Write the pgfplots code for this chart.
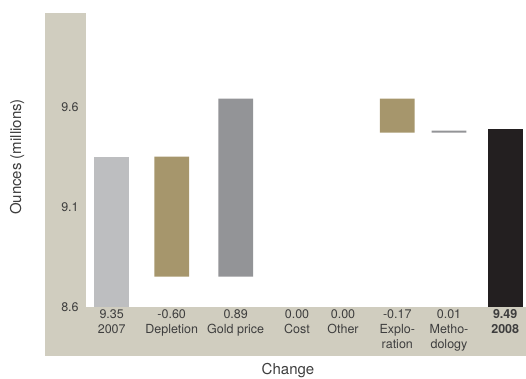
\documentclass[border=0pt]{standalone}
\usepackage{pgfplots}
\pgfplotsset{compat=1.18}
\usepackage{pgfplotstable}
\usepackage{fontspec}
\setmainfont{TeX Gyre Heros}

\definecolor{bgbeige}{HTML}{D0CDBF}
\definecolor{lightbar}{HTML}{BDBEC0}
\definecolor{khaki}{HTML}{A6966C}
\definecolor{midgray}{HTML}{939497}
\definecolor{darkbar}{HTML}{231F20}
\definecolor{txt}{HTML}{3E3E3E}

% Reserve bridge: invisible base, then the visible segment of each step
\pgfplotstableread{
x      base   first  khaki  gray   last
111.7  0      9.35   0      0      0
171.7  8.75   0      0.60   0      0
235.7  8.75   0      0      0.89   0
297    0      0      0      0      0
343    0      0      0      0      0
397.3  9.47   0      0.17   0      0
449    9.47   0      0      0.01   0
505.2  0      0      0      0      9.49
}\waterfall

\begin{document}
\begin{tikzpicture}[x=1pt,y=1pt]
\useasboundingbox (0,0) rectangle (526,378);
% L-shaped frame behind the tick labels
\fill[bgbeige] (45,22.3) rectangle (85.7,365);
\fill[bgbeige] (85.7,22.3) rectangle (526,71.3);
\begin{axis}[
  at={(85.7pt,71.3pt)}, anchor=south west,
  x=1pt, y=200pt,
  xmin=85.7, xmax=526, ymin=8.6, ymax=10.068,
  axis line style={draw=none},
  major tick length=0pt,
  ybar stacked, bar width=34.7,
  ytick={8.6,9.1,9.6},
  yticklabel style={font=\fontsize{12.5}{15}\selectfont, text=txt, xshift=-3.5pt,
    /pgf/number format/.cd, fixed, precision=1, fixed zerofill, assume math mode=true},
  xtick={111.7,171.7,235.7,297,343,397.3,449,505.2},
  xticklabels={
    {9.35\\2007},
    {-0.60\\Depletion},
    {0.89\\Gold price},
    {0.00\\Cost},
    {0.00\\Other},
    {-0.17\\Explo-\\ration},
    {0.01\\Metho-\\dology},
    {\textbf{9.49}\\\textbf{2008}}},
  xticklabel style={align=center, anchor=north, inner sep=2pt, yshift=-1pt,
    font=\fontsize{12.5}{15}\selectfont, text=txt},
]
\addplot[draw=none, fill=none] table[x=x, y=base] {\waterfall};
\addplot[draw=none, fill=lightbar] table[x=x, y=first] {\waterfall};
\addplot[draw=none, fill=khaki] table[x=x, y=khaki] {\waterfall};
\addplot[draw=none, fill=midgray] table[x=x, y=gray] {\waterfall};
\addplot[draw=none, fill=darkbar] table[x=x, y=last] {\waterfall};
\end{axis}
\node[anchor=base, text=txt, font=\fontsize{15}{18}\selectfont] at (288,3.5) {Change};
\node[rotate=90, text=txt, font=\fontsize{15}{18}\selectfont] at (17,221) {Ounces (millions)};
\end{tikzpicture}
\end{document}
